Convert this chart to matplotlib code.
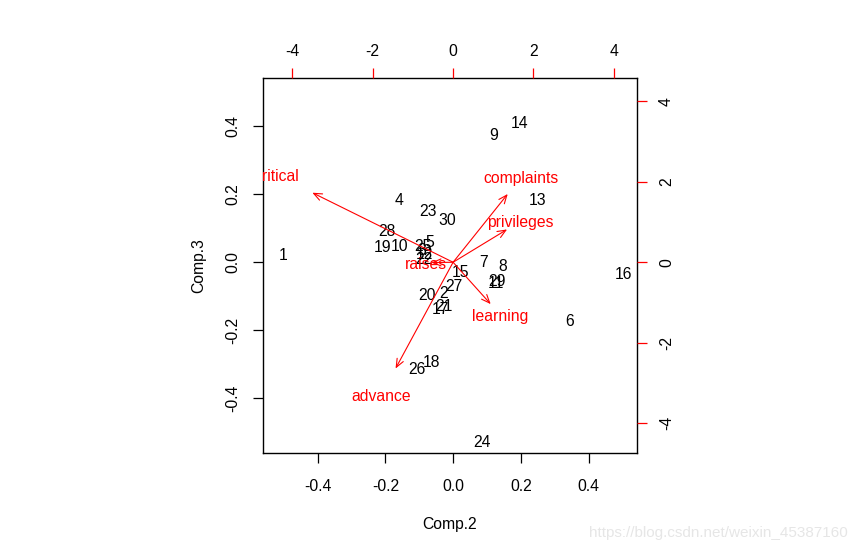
import matplotlib
matplotlib.use("Agg")
import matplotlib.pyplot as plt
import numpy as np

plt.rcParams['font.family'] = ['Liberation Sans', 'DejaVu Sans']

# observation scores (Comp.2, Comp.3)
obs_labels = [str(i) for i in range(1, 31)]
comp2 = [-0.502, -0.027, -0.092, -0.159, -0.069, 0.344, 0.089, 0.145, 0.121, -0.157,
         0.126, -0.086, 0.248, 0.195, 0.022, 0.502, -0.036, -0.064, -0.208, -0.078,
         -0.027, -0.086, -0.073, 0.084, -0.089, -0.108, 0.002, -0.194, 0.130, -0.016]
comp3 = [0.023, -0.089, 0.038, 0.187, 0.064, -0.169, 0.005, -0.007, 0.377, 0.052,
         -0.059, 0.028, 0.187, 0.414, -0.027, -0.033, -0.135, -0.292, 0.049, -0.093,
         -0.126, 0.012, 0.153, -0.526, 0.051, -0.312, -0.067, 0.096, -0.053, 0.126]

# variable loadings (secondary scale, label positions; arrows drawn to 0.8 of them)
var_labels = ['critical', 'complaints', 'privileges', 'raises', 'learning', 'advance']
load2 = [-4.38, 1.70, 1.68, -0.68, 1.17, -1.79]
load3 = [2.16, 2.12, 1.02, -0.01, -1.30, -3.30]

lim = (-0.562, 0.542)
ratio = 0.1186
prim_ticks = [-0.4, -0.2, 0.0, 0.2, 0.4]
prim_ticklabels = ['-0.4', '-0.2', '0.0', '0.2', '0.4']
sec_ticks = [-4, -2, 0, 2, 4]
sec_ticklabels = ['-4', '-2', '0', '2', '4']

fs = 11.3
fig = plt.figure(figsize=(8.61, 5.52), dpi=100)
pos = [0.3051, 0.1793, 0.4344, 0.6789]
ax = fig.add_axes(pos)
ax.set_xlim(lim)
ax.set_ylim(lim)
for x, y, t in zip(comp2, comp3, obs_labels):
    ax.text(x, y, t, ha='center', va='center_baseline', fontsize=fs, color='black',
            clip_on=True)
ax.set_xticks(prim_ticks)
ax.set_xticklabels(prim_ticklabels)
ax.set_yticks(prim_ticks)
ax.set_yticklabels(prim_ticklabels, rotation=90, va='center')
ax.tick_params(direction='out', length=7, width=0.9, labelsize=fs, pad=9)
ax.tick_params(axis='x', pad=12)
ax.set_xlabel('Comp.2', fontsize=fs, labelpad=16)
ax.set_ylabel('Comp.3', fontsize=fs, labelpad=14)
for s in ax.spines.values():
    s.set_linewidth(1.0)

ax2 = fig.add_axes(pos, frameon=False)
ax2.set_xlim(lim[0] / ratio, lim[1] / ratio)
ax2.set_ylim(lim[0] / ratio, lim[1] / ratio)
ax2.patch.set_visible(False)
ax2.xaxis.tick_top()
ax2.yaxis.tick_right()
ax2.set_xticks(sec_ticks)
ax2.set_xticklabels(sec_ticklabels)
ax2.set_yticks(sec_ticks)
ax2.set_yticklabels(sec_ticklabels, rotation=90, va='center')
ax2.tick_params(direction='out', length=7, width=0.9, labelsize=fs, pad=9,
                color='red', labelcolor='black')
ax2.tick_params(axis='x', pad=7)
for x, y, t in zip(load2, load3, var_labels):
    ax2.annotate('', xy=(0.8 * x, 0.8 * y), xytext=(0, 0),
                 arrowprops=dict(arrowstyle='->,head_length=0.6,head_width=0.25',
                                 color='red', lw=0.8, shrinkA=0, shrinkB=0))
    ax2.text(x, y, t, ha='center', va='center_baseline', fontsize=fs,
             color='red', clip_on=True)

fig.text(0.985, 0.035, 'https://blog.csdn.net/weixin_45387160', ha='right', va='center',
         fontsize=11, color='#e6e6e6')

fig.savefig('out.png', dpi=100)
